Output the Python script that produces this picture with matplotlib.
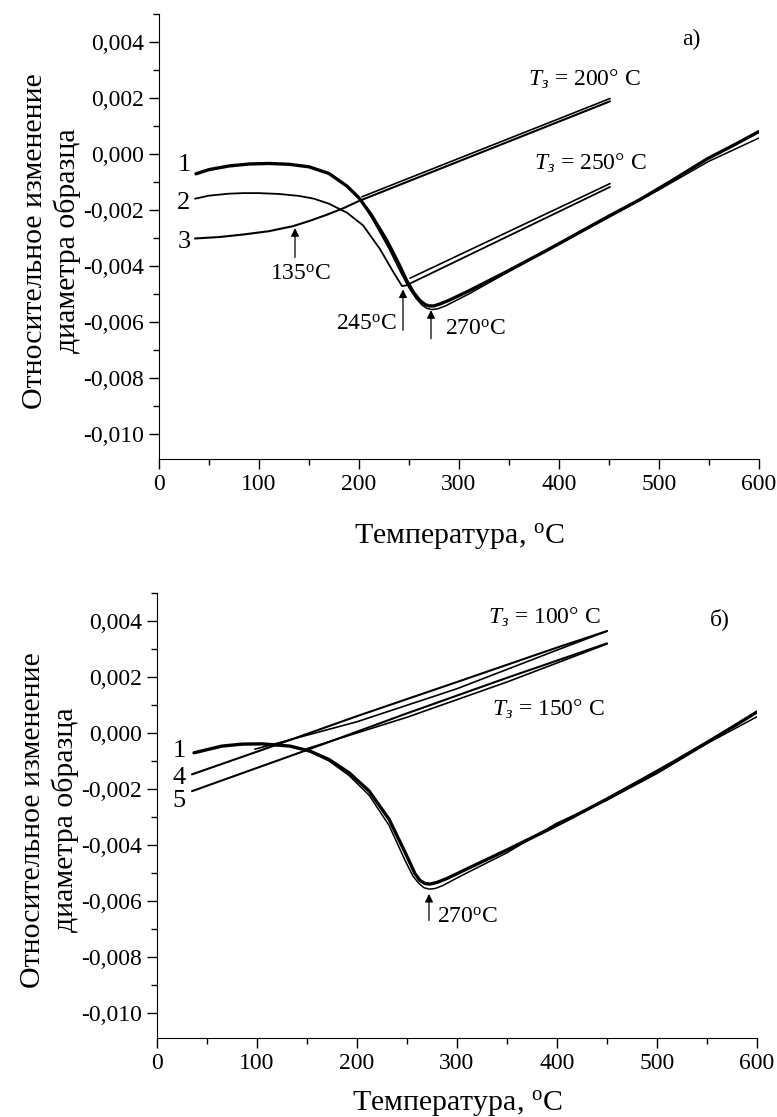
import numpy as np
import matplotlib
matplotlib.use('Agg')
import matplotlib.pyplot as plt
from matplotlib.ticker import MultipleLocator, FixedLocator, FuncFormatter

plt.rcParams['font.family'] = ['Liberation Serif', 'DejaVu Serif']
plt.rcParams['mathtext.fontset'] = 'custom'
plt.rcParams['mathtext.rm'] = 'Liberation Serif'
plt.rcParams['mathtext.it'] = 'Liberation Serif:italic'

# ---- panel a) ----
# curve 1 (heating to 600)
t1_a = [37, 50, 70, 90, 110, 130, 150, 170, 188, 200, 212, 228, 240, 248, 255, 261, 266, 270, 275,
        281, 290, 300, 310, 348, 387, 414, 450, 481, 514, 548, 575, 600]
v1_a = [-0.00071, -0.00056, -0.00043, -0.00036, -0.00034, -0.00037, -0.00046, -0.00070, -0.00115,
        -0.00157, -0.00216, -0.00310, -0.00394, -0.00455, -0.00497, -0.00524, -0.00538, -0.00543,
        -0.00543, -0.00536, -0.00523, -0.00506, -0.00489, -0.00420, -0.00346, -0.00293, -0.00222,
        -0.00163, -0.00093, -0.00018, 0.00032, 0.00080]
# second trace lying along curve 1
t1b_a = [202, 214, 230, 242, 250, 257, 263, 268, 273, 279, 287, 298, 310, 348, 400, 450, 500, 550, 600]
v1b_a = [-0.00165, -0.00236, -0.00338, -0.00425, -0.00478, -0.00516, -0.00540, -0.00552, -0.00556,
         -0.00553, -0.00542, -0.00522, -0.00500, -0.00424, -0.00320, -0.00226, -0.00128, -0.00026, 0.00057]
# curve 2 and its branch up to 450
t2_a = [36, 50, 70, 84, 100, 120, 140, 155, 170, 188, 204, 221, 234, 243, 247, 451]
v2_a = [-0.00160, -0.00149, -0.00142, -0.00140, -0.00140, -0.00143, -0.00150, -0.00160, -0.00178,
        -0.00210, -0.00255, -0.00340, -0.00420, -0.00472, -0.00470, -0.00118]
# curve 3 and its branch up to 450
t3_a = [36, 60, 84, 110, 134, 150, 168, 185, 200, 451]
v3_a = [-0.00302, -0.00297, -0.00288, -0.00276, -0.00258, -0.00240, -0.00217, -0.00193, -0.00168, 0.00188]
# lines leaving curve 1 at T_з = 200 and 250
tz200_a = [203, 451]
vz200_a = [-0.00153, 0.00198]
tz250_a = [251, 451]
vz250_a = [-0.00444, -0.00106]

# ---- panel б) ----
t1_b = [37, 65, 85, 105, 133, 153, 172, 192, 212, 232, 248, 258, 263, 268, 273, 280, 290, 300, 311,
        350, 391, 416, 450, 483, 515, 550, 575, 600]
v1_b = [-0.00071, -0.00047, -0.00040, -0.00039, -0.00047, -0.00065, -0.00095, -0.00142, -0.00207,
        -0.00308, -0.00426, -0.00503, -0.00527, -0.00538, -0.00540, -0.00534, -0.00520, -0.00503,
        -0.00484, -0.00418, -0.00346, -0.00300, -0.00236, -0.00171, -0.00107, -0.00034, 0.00020, 0.00075]
t1b_b = [150, 172, 192, 212, 232, 248, 256, 262, 267, 272, 278, 286, 298, 311, 350, 400, 450, 500,
         550, 600]
v1b_b = [-0.00062, -0.00100, -0.00152, -0.00222, -0.00330, -0.00455, -0.00512, -0.00538, -0.00553,
         -0.00558, -0.00556, -0.00545, -0.00522, -0.00498, -0.00428, -0.00322, -0.00240, -0.00145,
         -0.00038, 0.00058]
# curve 4 (T_з = 100)
t4_b = [35, 100, 200, 300, 400, 450]
v4_b = [-0.00148, -0.00067, 0.00060, 0.00182, 0.00305, 0.00364]
t4b_b = [98, 200, 300, 400, 450]
v4b_b = [-0.00058, 0.00040, 0.00158, 0.00296, 0.00364]
# curve 5 (T_з = 150)
t5_b = [35, 150, 250, 350, 450]
v5_b = [-0.00208, -0.00061, 0.00070, 0.00197, 0.00320]
t5b_b = [150, 250, 350, 450]
v5b_b = [-0.00056, 0.00056, 0.00182, 0.00318]

yticks = [-0.010, -0.008, -0.006, -0.004, -0.002, 0.000, 0.002, 0.004]
xticks = [0, 100, 200, 300, 400, 500, 600]

fig = plt.figure(figsize=(7.77, 11.17), dpi=100)
ax1 = fig.add_axes([159 / 777, 1 - 459 / 1117, 600 / 777, 445 / 1117])
ax2 = fig.add_axes([157 / 777, 1 - 1038 / 1117, 600 / 777, 445 / 1117])


def fmt(v, pos):
    if abs(v) < 1e-12:
        v = 0.0
    return '{:.3f}'.format(v).replace('.', ',')


for ax in (ax1, ax2):
    ax.set_xlim(0, 600)
    ax.set_ylim(-0.0109, 0.0050)
    ax.spines['top'].set_visible(False)
    ax.spines['right'].set_visible(False)
    ax.xaxis.set_major_locator(FixedLocator(xticks))
    ax.xaxis.set_minor_locator(MultipleLocator(50))
    ax.yaxis.set_major_locator(FixedLocator(yticks))
    ax.yaxis.set_minor_locator(MultipleLocator(0.001))
    ax.yaxis.set_major_formatter(FuncFormatter(fmt))
    ax.tick_params(which='major', direction='out', length=7, width=1, labelsize=17, pad=4)
    ax.tick_params(which='minor', direction='out', length=4, width=1)
    ax.set_xlabel(r'Температура, $^{\rm o}$C', fontsize=21.5)
    ax.set_ylabel('Относительное изменение\nдиаметра образца', fontsize=21.5, linespacing=1.25)
    ax.yaxis.set_label_coords(-0.13, 0.49)

ax1.xaxis.set_label_coords(0.5, -0.142)
ax2.xaxis.set_label_coords(0.5, -0.115)

kw = dict(color='k', solid_capstyle='round', solid_joinstyle='round')
arrow = dict(arrowstyle='-|>', color='k', lw=0.9, mutation_scale=12, shrinkA=0, shrinkB=0)

# panel a
ax1.plot(t1_a, v1_a, lw=2.4, **kw)
ax1.plot(t1b_a, v1b_a, lw=1.1, **kw)
ax1.plot(t2_a, v2_a, lw=1.3, **kw)
ax1.plot(t3_a, v3_a, lw=1.5, **kw)
ax1.plot(tz200_a, vz200_a, lw=1.2, **kw)
ax1.plot(tz250_a, vz250_a, lw=1.2, **kw)

ax1.text(25, -0.00038, '1', fontsize=19, ha='center', va='center')
ax1.text(25, -0.00174, '2', fontsize=19, ha='center', va='center')
ax1.text(25, -0.00314, '3', fontsize=19, ha='center', va='center')
ax1.annotate('', xy=(136, -0.00265), xytext=(136, -0.0037), arrowprops=arrow)
ax1.text(141, -0.0043, r'135$^{\rm o}$C', fontsize=17, ha='center', va='center')
ax1.annotate('', xy=(244, -0.00484), xytext=(244, -0.0063), arrowprops=arrow)
ax1.text(238, -0.0061, r'245$^{\rm o}$C', fontsize=17, ha='right', va='center')
ax1.annotate('', xy=(272, -0.00558), xytext=(272, -0.0066), arrowprops=arrow)
ax1.text(286, -0.00625, r'270$^{\rm o}$C', fontsize=17, ha='left', va='center')
ax1.text(369, 0.00265, r'$T_з$ = 200° C', fontsize=17, ha='left', va='center')
ax1.text(375, -0.00034, r'$T_з$ = 250° C', fontsize=17, ha='left', va='center')
ax1.text(532, 0.0041, 'а)', fontsize=17, ha='center', va='center')

# panel b
ax2.plot(t1_b, v1_b, lw=2.4, **kw)
ax2.plot(t1b_b, v1b_b, lw=1.1, **kw)
ax2.plot(t4_b, v4_b, lw=1.5, **kw)
ax2.plot(t4b_b, v4b_b, lw=1.2, **kw)
ax2.plot(t5_b, v5_b, lw=1.5, **kw)
ax2.plot(t5b_b, v5b_b, lw=1.2, **kw)

ax2.text(22, -0.00065, '1', fontsize=19, ha='center', va='center')
ax2.text(22, -0.0016, '4', fontsize=19, ha='center', va='center')
ax2.text(22, -0.00243, '5', fontsize=19, ha='center', va='center')
ax2.annotate('', xy=(272, -0.00575), xytext=(272, -0.0067), arrowprops=arrow)
ax2.text(280, -0.00657, r'270$^{\rm o}$C', fontsize=17, ha='left', va='center')
ax2.text(331, 0.00414, r'$T_з$ = 100° C', fontsize=17, ha='left', va='center')
ax2.text(335, 0.00083, r'$T_з$ = 150° C', fontsize=17, ha='left', va='center')
ax2.text(563, 0.00408, 'б)', fontsize=17, ha='center', va='center')

fig.savefig('out.png', dpi=100)
